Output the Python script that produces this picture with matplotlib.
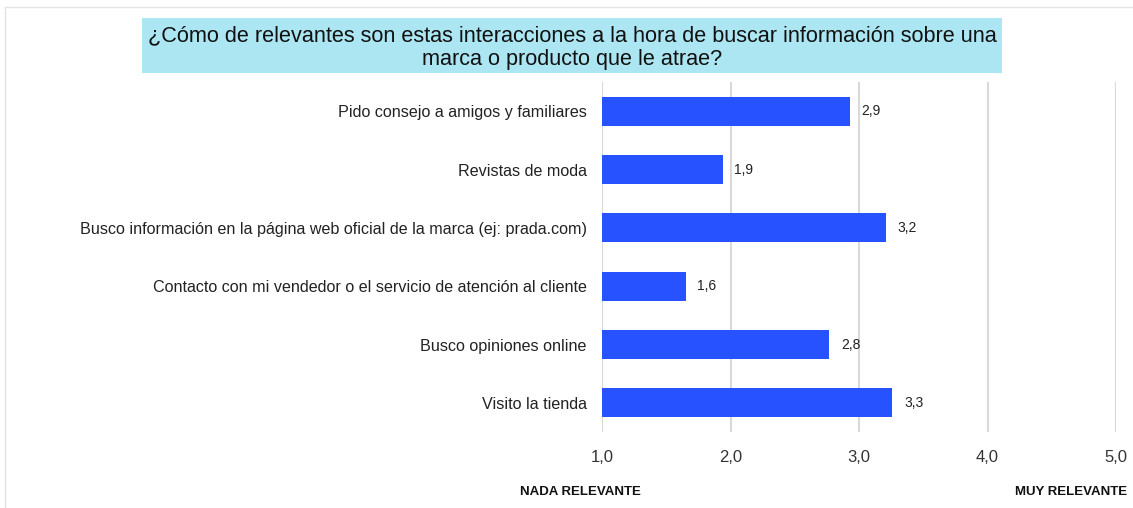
import matplotlib
matplotlib.use('Agg')
import matplotlib.pyplot as plt
from matplotlib.patches import Rectangle
from matplotlib.lines import Line2D

plt.rcParams['font.family'] = ['Liberation Sans', 'DejaVu Sans']

# datos
categorias = ['Pido consejo a amigos y familiares',
              'Revistas de moda',
              'Busco información en la página web oficial de la marca (ej: prada.com)',
              'Contacto con mi vendedor o el servicio de atención al cliente',
              'Busco opiniones online',
              'Visito la tienda']
valores = [2.93, 1.94, 3.21, 1.65, 2.77, 3.26]
etiquetas = ['2,9', '1,9', '3,2', '1,6', '2,8', '3,3']
ticks_x = [1, 2, 3, 4, 5]
ticks_txt = ['1,0', '2,0', '3,0', '4,0', '5,0']

titulo = '¿Cómo de relevantes son estas interacciones a la hora de buscar información sobre una\nmarca o producto que le atrae?'

fig = plt.figure(figsize=(11.33, 5.08), dpi=100)
ax = fig.add_axes([602/1133, 1-432/508, 514/1133, 350/508])

y = range(len(categorias))
ax.barh(y, [v - 1 for v in valores], left=1, height=0.5, color='#2752ff', zorder=3)
for i, v in enumerate(valores):
    ax.text(v + 0.09, i, etiquetas[i], va='center', ha='left', fontsize=10, color='#222222')

ax.set_xlim(1, 5)
ax.set_ylim(len(categorias) - 0.5, -0.5)
ax.set_yticks(list(y))
ax.set_yticklabels(categorias, fontsize=11.6, color='#222222')
ax.set_xticks(ticks_x)
ax.set_xticklabels(ticks_txt, fontsize=12, color='#333333')
ax.tick_params(length=0, axis='y', pad=11)
ax.tick_params(length=0, axis='x', pad=13)
for s in ax.spines.values():
    s.set_visible(False)
for t in ticks_x:
    ax.axvline(t, color='#d9d9d9', lw=1.5, zorder=1)

# caja del titulo
fig.add_artist(Rectangle((142/1133, 1-73/508), 860/1133, 55/508,
                         transform=fig.transFigure, facecolor='#abe6f2', edgecolor='none'))
fig.text(572/1133, 1-48/508, titulo, ha='center', va='center', fontsize=15.6,
         linespacing=1.17, color='#111111')

fig.text(580/1133, 1-492/508, 'NADA RELEVANTE', ha='center', va='center',
         fontsize=9.5, fontweight='bold', color='#111111')
fig.text(1127/1133, 1-492/508, 'MUY RELEVANTE', ha='right', va='center',
         fontsize=9.5, fontweight='bold', color='#111111')

# borde
fig.add_artist(Line2D([5/1133, 1], [1-7/508, 1-7/508], transform=fig.transFigure, color='#e3e3e3', lw=1))
fig.add_artist(Line2D([5/1133, 5/1133], [0, 1-7/508], transform=fig.transFigure, color='#e3e3e3', lw=1))

fig.savefig('out.png', dpi=100)
